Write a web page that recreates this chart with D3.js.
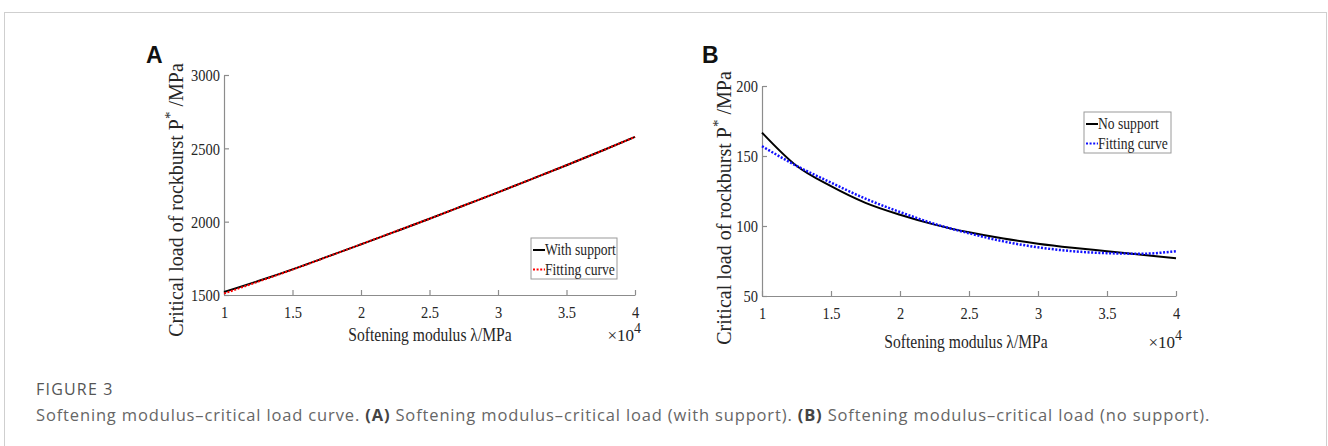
<!DOCTYPE html>
<html><head><meta charset="utf-8">
<script src="https://cdn.jsdelivr.net/npm/d3@7"></script>
<style>body{margin:0;background:#fff}svg{display:block}</style>
</head><body>
<svg id="c" width="1328" height="446"></svg>
<script>
// ---- data ----
const xValues = [1, 1.25, 1.5, 1.75, 2, 2.25, 2.5, 2.75, 3, 3.25, 3.5, 3.75, 4]; // ×10^4 MPa
const withSupport = [1520, 1595, 1675, 1760, 1845, 1932, 2020, 2110, 2200, 2292, 2385, 2480, 2578];
const fitA = [1510, 1591, 1673, 1759, 1846, 1933, 2020, 2110, 2200, 2292, 2385, 2480, 2578];
const noSupport = [166.7, 143, 128.4, 116.5, 108, 101, 95.5, 91, 87.4, 84.5, 82, 79.5, 77];
const fitB = [157, 143, 131, 119.5, 110, 101.5, 94.8, 89, 84.8, 82, 80.6, 80.2, 82];
const xTicks = [1, 1.5, 2, 2.5, 3, 3.5, 4];
const xTickLabels = ["1", "1.5", "2", "2.5", "3", "3.5", "4"];
const yTicksA = [1500, 2000, 2500, 3000];
const yTicksB = [50, 100, 150, 200];
const legendA = ["With support", "Fitting curve"];
const legendB = ["No support", "Fitting curve"];

const svg = d3.select("#c");
const SERIF = "'Liberation Serif','Times New Roman',serif";
const TXT = "#262626", AX = "#8c8c8c";

// frame
svg.append("rect").attr("x", 4.5).attr("y", 12.5).attr("width", 1322).attr("height", 480)
  .attr("fill", "none").attr("stroke", "#cfcfcf").attr("stroke-width", 1);

function squeeze(sel, f) {
  sel.each(function () {
    const w = this.getComputedTextLength();
    d3.select(this).attr("textLength", w * f).attr("lengthAdjust", "spacingAndGlyphs");
  });
}

function panel(o) {
  const x = d3.scaleLinear().domain([1, 4]).range([o.x0, o.x1]);
  const y = d3.scaleLinear().domain(o.yDomain).range([o.y0, o.y1]);
  const g = svg.append("g");

  // axes with inward ticks
  const xa = g.append("g").attr("transform", `translate(0,${o.y0})`)
    .call(d3.axisBottom(x).tickValues(xTicks).tickFormat((d, i) => xTickLabels[i]).tickSizeInner(-5).tickSizeOuter(0).tickPadding(11));
  const ya = g.append("g").attr("transform", `translate(${o.x0},0)`)
    .call(d3.axisLeft(y).tickValues(o.yTicks).tickFormat(d3.format("d")).tickSizeInner(-5).tickSizeOuter(0).tickPadding(4));
  [xa, ya].forEach(a => {
    a.select(".domain").attr("stroke", AX).attr("stroke-width", 1.2);
    a.selectAll(".tick line").attr("stroke", AX).attr("stroke-width", 1.2);
    a.selectAll(".tick text").attr("fill", TXT).attr("font-family", SERIF).attr("font-size", 17);
  });
  xa.selectAll(".tick text").attr("dy", "0.71em");
  ya.selectAll(".tick text").attr("dy", "0.35em");
  squeeze(xa.selectAll(".tick text"), 0.85);
  squeeze(ya.selectAll(".tick text"), 0.85);

  const line = d3.line().x((d, i) => x(xValues[i])).y(d => y(d)).curve(d3.curveMonotoneX);
  g.append("path").datum(o.s1).attr("d", line).attr("fill", "none").attr("stroke", "#000").attr("stroke-width", 2);
  g.append("path").datum(o.s2).attr("d", line).attr("fill", "none").attr("stroke", o.fitColor)
    .attr("stroke-width", o.fitW).attr("stroke-dasharray", "2,1.6");

  // x label
  const xl = g.append("text").attr("x", o.xlabX).attr("y", o.xlabY).attr("text-anchor", "middle")
    .attr("font-family", SERIF).attr("font-size", 19).attr("fill", TXT).text("Softening modulus λ/MPa");
  squeeze(xl, 0.82);
  // ×10^4
  const ex = g.append("text").attr("x", o.x1 + 6).attr("y", o.expY).attr("text-anchor", "end")
    .attr("font-family", SERIF).attr("font-size", 17).attr("fill", TXT);
  ex.append("tspan").text("×10");
  ex.append("tspan").attr("dy", -8).attr("font-size", 14).text("4");

  // y label
  const yl = g.append("text").attr("transform", `translate(${o.ylabX},${o.ylabY}) rotate(-90)`)
    .attr("text-anchor", "middle").attr("font-family", SERIF).attr("font-size", 20).attr("fill", TXT);
  yl.append("tspan").text("Critical load of rockburst P");
  yl.append("tspan").attr("dy", -8).attr("font-size", 15).text("*");
  yl.append("tspan").attr("dy", 8).text(" /MPa");

  // panel letter
  g.append("text").attr("x", o.letX).attr("y", 63).attr("font-family", "Arial,'Liberation Sans',sans-serif")
    .attr("font-weight", "bold").attr("font-size", 23).attr("fill", "#111").text(o.letter);

  // legend
  const lg = g.append("g");
  lg.append("rect").attr("x", o.lx).attr("y", o.ly).attr("width", o.lw).attr("height", 41)
    .attr("fill", "#fff").attr("stroke", "#9a9a9a").attr("stroke-width", 1);
  o.legend.forEach((t, i) => {
    const cy = o.ly + 12 + i * 19.5;
    lg.append("line").attr("x1", o.lx + 2).attr("x2", o.lx + 14).attr("y1", cy).attr("y2", cy)
      .attr("stroke", i === 0 ? "#000" : o.fitColor).attr("stroke-width", 2)
      .attr("stroke-dasharray", i === 0 ? null : "2,1.6");
    const tt = lg.append("text").attr("x", o.lx + 14).attr("y", cy + 5).attr("font-family", SERIF)
      .attr("font-size", 16).attr("fill", TXT).text(t);
    squeeze(tt, 0.85);
  });
}

panel({
  letter: "A", letX: 146, x0: 224, x1: 635, y0: 295, y1: 75, yDomain: [1500, 3000], yTicks: yTicksA,
  s1: withSupport, s2: fitA, fitColor: "#ff0000", fitW: 2,
  xlabX: 430, xlabY: 341, expY: 341, ylabX: 183, ylabY: 200,
  lx: 531, ly: 238, lw: 86, legend: legendA
});
panel({
  letter: "B", letX: 702, x0: 762, x1: 1176, y0: 296, y1: 86, yDomain: [50, 200], yTicks: yTicksB,
  s1: noSupport, s2: fitB, fitColor: "#1010ff", fitW: 2.5,
  xlabX: 966, xlabY: 348, expY: 348, ylabX: 731, ylabY: 208,
  lx: 1084, ly: 112, lw: 87, legend: legendB
});

// caption
const SANS = "'Open Sans','Noto Sans',sans-serif";
svg.append("text").attr("x", 36).attr("y", 395).attr("font-family", SANS).attr("font-size", 16)
  .attr("fill", "#555").attr("letter-spacing", 1.2).text("FIGURE 3");
const cap = svg.append("text").attr("x", 36).attr("y", 421).attr("font-family", SANS).attr("font-size", 16.5)
  .attr("fill", "#666").attr("letter-spacing", 0.85);
cap.append("tspan").text("Softening modulus–critical load curve. ");
cap.append("tspan").attr("font-weight", "bold").attr("fill", "#444").text("(A)");
cap.append("tspan").text(" Softening modulus–critical load (with support). ");
cap.append("tspan").attr("font-weight", "bold").attr("fill", "#444").text("(B)");
cap.append("tspan").text(" Softening modulus–critical load (no support).");
</script>
</body></html>
